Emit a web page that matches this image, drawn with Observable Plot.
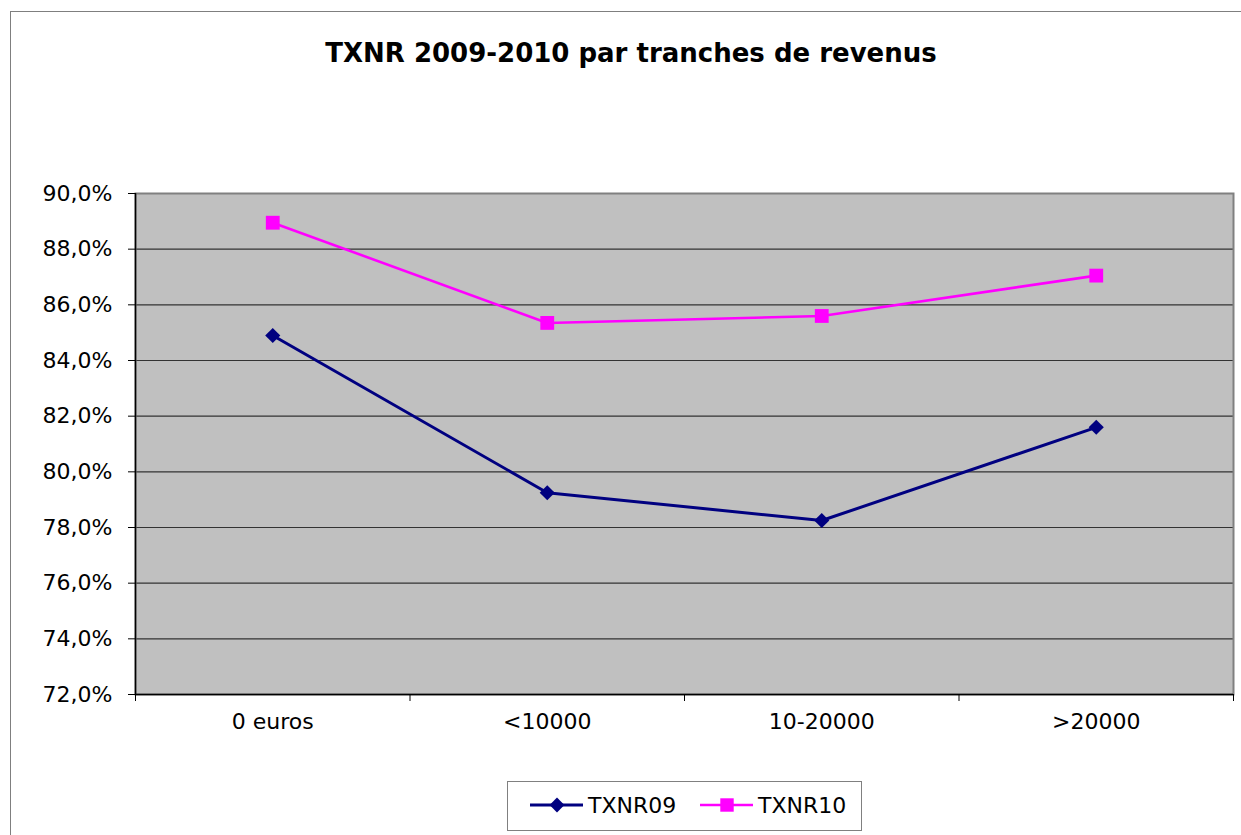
<!DOCTYPE html>
<html><head><meta charset="utf-8">
<script src="https://cdn.jsdelivr.net/npm/d3@7"></script>
<script src="https://cdn.jsdelivr.net/npm/@observablehq/plot@0.6"></script>
<style>
body{margin:0;background:#fff;}
#wrap{position:relative;width:1241px;height:835px;overflow:hidden;font-family:"DejaVu Sans",sans-serif;}
#border{position:absolute;left:10px;top:11px;width:1240px;height:830px;border-left:1px solid #7f7f7f;border-top:1px solid #7f7f7f;}
#title{position:absolute;left:0;width:1262px;top:40px;line-height:26px;text-align:center;font-weight:bold;font-size:26px;color:#000;}
#chart{position:absolute;left:0;top:0;}
#legend{position:absolute;left:507px;top:781px;width:355px;height:50px;border:1px solid #808080;box-sizing:border-box;background:#fff;}
</style>
</head><body>
<div id="wrap">
  <div id="border"></div>
  <div id="chart"></div>
  <div id="title">TXNR 2009-2010 par tranches de revenus</div>
  <div id="legend"></div>
</div>
<script>
const categories = ["0 euros", "<10000", "10-20000", ">20000"];
const txnr09 = [84.9, 79.25, 78.25, 81.6];
const txnr10 = [88.95, 85.35, 85.6, 87.05];
const yTicks = [72, 74, 76, 78, 80, 82, 84, 86, 88, 90];
const series = ["TXNR09", "TXNR10"];
const colors = ["#000080", "#FF00FF"];
const symbols = ["diamond2", "square"];
const widths = [3, 2.6];
const radii = [6.8, 7.8];

const values = {TXNR09: txnr09, TXNR10: txnr10};
const data = series.flatMap(s => categories.map((c, i) => ({i, cat: c, series: s, v: values[s][i]})));

const fmt = d => d.toFixed(1).replace(".", ",") + "%";

const chart = Plot.plot({
  width: 1241, height: 770,
  marginLeft: 135, marginRight: 8, marginTop: 193, marginBottom: 76,
  style: {fontFamily: "DejaVu Sans", fontSize: "22px", color: "#000", background: "transparent", overflow: "visible"},
  x: {domain: [-0.5, 3.5]},
  y: {domain: [72, 90]},
  color: {domain: series, range: colors},
  symbol: {domain: series, range: symbols},
  marks: [
    Plot.frame({fill: "#c0c0c0"}),
    Plot.ruleY(yTicks.slice(1, -1), {stroke: "#333", strokeWidth: 1.2}),
    Plot.frame({stroke: "#808080", strokeWidth: 2}),
    Plot.ruleY([72], {stroke: "#000", strokeWidth: 1.5}),
    Plot.ruleX([-0.5], {stroke: "#000", strokeWidth: 1.5}),
    Plot.axisY({ticks: yTicks, tickSize: 7, tickPadding: 16, tickFormat: fmt, label: null}),
    Plot.axisX({ticks: [-0.5, 0.5, 1.5, 2.5, 3.5], tickSize: 7, tickFormat: () => "", label: null}),
    Plot.axisX({ticks: [0, 1, 2, 3], tickSize: 0, tickPadding: 19, tickFormat: i => categories[i], label: null}),
    ...series.map((s, k) => Plot.line(data.filter(d => d.series === s), {x: "i", y: "v", stroke: "series", strokeWidth: widths[k]})),
    ...series.map((s, k) => Plot.dot(data.filter(d => d.series === s), {x: "i", y: "v", symbol: "series", fill: "series", r: radii[k], stroke: null}))
  ]
});
document.getElementById("chart").appendChild(chart);

// legend
const lg = d3.select("#legend").append("svg").attr("width", 353).attr("height", 48)
  .style("font-family", "DejaVu Sans").style("font-size", "22px");
const lx = [22, 192];
series.forEach((s, k) => {
  const g = lg.append("g").attr("transform", `translate(${lx[k]},23)`);
  g.append("line").attr("x1", 0).attr("x2", 53).attr("y1", 0).attr("y2", 0)
    .attr("stroke", colors[k]).attr("stroke-width", widths[k]);
  g.append("path").attr("transform", "translate(27,0)")
    .attr("d", d3.symbol(k === 0 ? d3.symbolDiamond2 : d3.symbolSquare, k === 0 ? 140 : 180)())
    .attr("fill", colors[k]);
  g.append("text").attr("x", 58).attr("y", 8).text(s).attr("fill", "#000");
});
</script>
</body></html>
